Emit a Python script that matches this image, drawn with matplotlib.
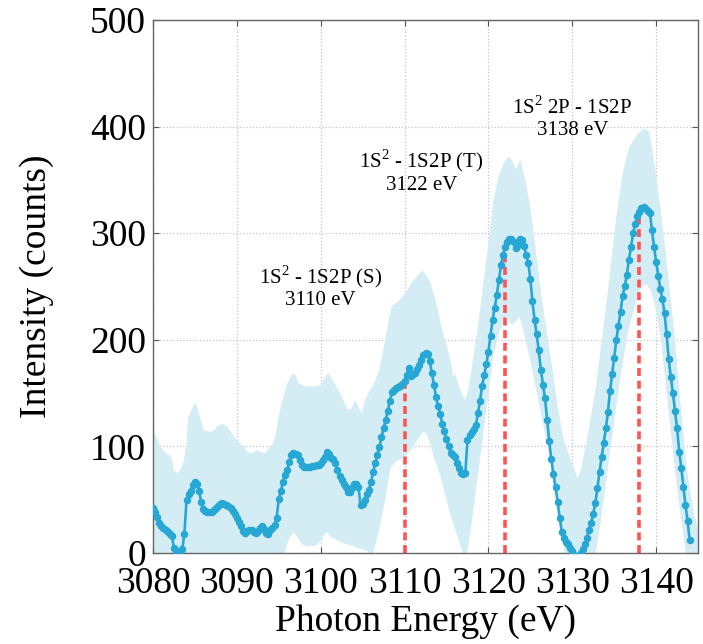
import numpy as np
import matplotlib
matplotlib.use('Agg')
import matplotlib.pyplot as plt

plt.rcParams['font.family'] = ['Liberation Serif', 'DejaVu Serif']
plt.rcParams['mathtext.fontset'] = 'custom'
plt.rcParams['mathtext.rm'] = 'Liberation Serif'

# photon energy grid (eV), 0.25 eV steps
energy = np.arange(3080.0, 3144.01, 0.25)

intensity = [
    42, 38, 34, 28, 25, 23, 21.5, 20,
    18, 16, 5, 2, 0, 1, 4, 18,
    50, 55, 58, 64, 67, 65, 58, 48,
    41, 39, 38, 38, 38.5, 40, 42, 44.5,
    46, 46.5, 46, 45, 44, 42, 39, 37,
    33, 29, 25, 21, 19, 21, 22, 21.5,
    20, 18.5, 21, 23.5, 25, 22.5, 19, 18,
    21.5, 23.5, 26, 33, 51, 58, 67, 73,
    78, 85, 92, 94, 93, 92, 87, 83,
    81, 80.5, 81, 81, 81.5, 82, 82.5, 82.5,
    84, 87, 90, 94.5, 93, 89.5, 88, 84,
    78, 72, 68.5, 65, 61.5, 57, 57.5, 61,
    64.5, 65, 62, 45, 46, 50, 55, 59,
    67, 76, 84, 92, 99, 109, 117, 125,
    133, 143, 151, 153, 154.5, 155.5, 157, 158.5,
    161, 167, 174, 166, 167.5, 169, 173, 176,
    181, 185.5, 187.5, 186.5, 180, 169, 158, 146,
    138, 130, 121, 114, 107, 100, 94, 91.5,
    90, 84, 79.5, 75.5, 74.5, 75, 106, 111,
    113.5, 116.5, 120, 131, 143, 157, 167, 177,
    189, 204, 219, 230, 242, 256, 270, 280,
    287, 292, 295, 295, 292, 286, 289, 294.5,
    294, 288, 280, 272, 257, 236, 219, 205,
    190, 172, 158, 145, 125, 105, 88, 74,
    62, 48, 33, 20, 14, 10, 8, 5,
    2, -2, -5, -4, 0, 4, 8, 14,
    22, 28, 37, 47, 61, 76, 90, 103,
    117, 132, 152, 168, 183, 200, 213, 226,
    241, 250, 261, 275, 287, 300, 309, 316,
    320, 324, 324.5, 322.5, 321, 319, 303, 287,
    273, 260, 248, 238, 225, 205, 182, 165,
    150, 133, 117, 95, 80, 62, 45, 30,
    12,
]

# uncertainty band, upper edge
band_hi_x = [3080.0, 3080.7, 3081.3, 3081.9, 3082.3, 3082.5, 3082.9, 3083.3, 3083.7, 3084.0,
             3084.2, 3084.6, 3085.0, 3085.3, 3085.7, 3086.1, 3086.7, 3087.1, 3087.7, 3088.3,
             3088.8, 3089.4, 3090.0, 3090.8, 3091.4, 3091.8, 3092.4, 3092.8, 3093.4, 3093.8,
             3094.2, 3094.6, 3094.9, 3095.4, 3096.0, 3096.6, 3097.0, 3097.4, 3098.0, 3098.6,
             3099.2, 3100.0, 3100.5, 3100.9, 3101.5, 3102.1, 3102.5, 3102.9, 3103.3, 3103.7,
             3104.1, 3104.7, 3104.9, 3105.3, 3105.7, 3106.3, 3106.9, 3107.5, 3108.1, 3108.5,
             3109.1, 3109.7, 3110.3, 3110.9, 3111.5, 3112.1, 3112.5, 3113.1, 3113.7, 3114.3,
             3114.8, 3115.4, 3115.8, 3116.0, 3116.4, 3116.8, 3117.2, 3117.6, 3118.2, 3118.8,
             3119.4, 3120.0, 3120.6, 3121.2, 3121.8, 3122.4, 3122.7, 3123.3, 3123.8, 3124.4,
             3125.0, 3125.4, 3125.9, 3126.4, 3127.0, 3127.6, 3128.2, 3129.0, 3129.6, 3130.2,
             3130.6, 3131.0, 3131.4, 3132.0, 3132.8, 3133.6, 3134.4, 3135.2, 3136.0, 3136.8,
             3137.8, 3138.6, 3139.2, 3139.8, 3140.5, 3141.3, 3142.1, 3142.9, 3143.7, 3144.5,
             3145.0]
band_hi = [117, 103, 95, 92, 87, 78, 75, 78, 87, 103,
           127, 134, 141, 136, 125, 115, 114, 114, 119, 121,
           119, 112, 106, 99, 94, 93.5, 96.5, 95, 94, 98,
           101, 109, 125, 143, 159, 168, 167, 159, 156.5, 156.5,
           156, 157.5, 165, 169, 161, 153, 146.5, 140, 134, 135.5,
           143.5, 134, 131, 143.5, 150, 158, 170, 192, 218, 232,
           235, 240, 246, 254, 260, 265, 262, 253, 237, 215.5,
           200, 184, 165, 168.5, 159, 150, 143.5, 153, 184, 215.5,
           253, 290.5, 331, 353, 365.5, 372, 370, 360, 369, 350,
           324.5, 299.5, 268, 237, 205, 174, 140, 105, 92.5, 80,
           70.5, 77, 92.5, 117.5, 155, 205, 255.5, 312, 356, 381,
           393.5, 398, 395, 365, 324.5, 271, 211.5, 140, 77, 36,
           23]

# uncertainty band, lower edge (below zero where it reaches the axis)
band_lo_x = [3080.0, 3095.5, 3095.9, 3096.3, 3096.8, 3097.3, 3097.8, 3098.5, 3099.5, 3100.2,
             3100.7, 3101.2, 3102.5, 3104.0, 3105.5, 3106.2, 3106.9, 3107.7, 3108.3, 3109.0,
             3110.0, 3110.9, 3111.7, 3112.3, 3112.7, 3113.5, 3114.3, 3115.1, 3115.9, 3116.7,
             3117.1, 3117.5, 3118.0, 3118.6, 3119.2, 3120.0, 3120.6, 3121.2, 3121.8, 3122.2,
             3122.8, 3123.3, 3123.7, 3124.2, 3125.0, 3125.8, 3126.6, 3127.4, 3128.2, 3128.8,
             3129.2, 3132.6, 3132.9, 3133.4, 3134.2, 3135.0, 3135.8, 3136.6, 3137.4, 3138.2,
             3138.8, 3139.4, 3140.0, 3140.6, 3141.1, 3141.7, 3142.3, 3142.9, 3143.3, 3143.6,
             3145.0]
band_lo = [-10, -10, 5, 15, 19, 14, 8, 6, 7, 14,
           20, 15, 10, 6, 2, -2, 19, 50, 80, 86,
           90, 98, 108, 114, 111, 90, 71.5, 46.5, 25, 6,
           -2, 2, 28, 65, 100, 150, 185, 205, 218, 222,
           214, 217, 222, 208, 180, 149, 117.5, 86, 48.5, 14,
           -5, -5, 5, 30, 77, 124, 168, 205.5, 230.5, 249,
           252.5, 246, 227, 199, 161, 117.5, 73.5, 36, 14, -5,
           -5]

# transitions marked on the spectrum
line_energy = [3110, 3122, 3138]
line_labels = ['1S$^{2}$ - 1S2P (S)\n3110 eV',
               '1S$^{2}$ - 1S2P (T)\n3122 eV',
               '1S$^{2}$ 2P - 1S2P\n3138 eV']
label_x = [3100, 3112, 3130]
label_y = [250, 358, 408]

fig = plt.figure(figsize=(7.03, 6.44), dpi=100)
ax = fig.add_axes([0.2176, 0.1413, 0.7754, 0.8277])

ax.fill(np.r_[band_hi_x, band_lo_x[::-1]], np.r_[band_hi, band_lo[::-1]],
        color='#d4edf4', lw=0, zorder=1)

peak_y = np.interp(line_energy, energy, intensity)
for e, py in zip(line_energy, peak_y):
    ax.plot([e, e], [0, py], color='#ff5252', lw=2.6,
            linestyle=(0, (2.2, 1.3)), zorder=2)

ax.plot(energy, intensity, '-o', color='#27a7d3', lw=1.9, ms=4.4, zorder=3)

for x, y, t in zip(label_x, label_y, line_labels):
    ax.text(x, y, t, ha='center', va='center', fontsize=15, linespacing=1.1, zorder=4)

ax.set_xlim(3080, 3145)
ax.set_ylim(0, 500)
ax.set_xticks(range(3080, 3141, 10))
ax.set_yticks(range(0, 501, 100))
ax.tick_params(direction='in', length=4, width=0.8, colors='#555555',
               labelcolor='black', labelsize=27, top=True, right=True)
ax.tick_params(axis='x', pad=10)
ax.tick_params(axis='y', pad=5)
for s in ax.spines.values():
    s.set_color('#666666')
    s.set_linewidth(1.0)
ax.grid(True, linestyle=':', color='#c4c4c4', lw=0.9)
ax.set_axisbelow(True)

ax.set_xlabel('Photon Energy (eV)', fontsize=27, labelpad=2)
ax.set_ylabel('Intensity (counts)', fontsize=27, labelpad=26)

fig.savefig('out.png', dpi=100)
